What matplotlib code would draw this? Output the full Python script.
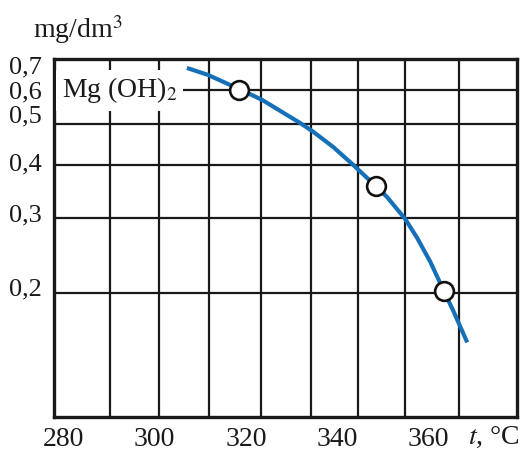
import matplotlib
matplotlib.use("Agg")
import matplotlib.pyplot as plt
import matplotlib.transforms as mtransforms

plt.rcParams['font.family'] = ['Liberation Serif', 'DejaVu Serif']
plt.rcParams['mathtext.fontset'] = 'stix'

# curve (t in degC, concentration in mg/dm3)
curve_t = [307.1, 311.7, 318.5, 323.6, 331.9, 334.5, 339.1, 343.5,
           348.5, 350.9, 354.9, 357.5, 360.4, 363.4, 365.4, 368.5]
curve_c = [0.678, 0.653, 0.605, 0.570, 0.503, 0.482, 0.442, 0.401,
           0.357, 0.337, 0.299, 0.270, 0.237, 0.202, 0.182, 0.153]

# measured points (circles)
pts_t = [318.5, 348.5, 363.4]
pts_c = [0.603, 0.357, 0.202]

x_ticks = [280, 300, 320, 340, 360]
y_ticks = [0.2, 0.3, 0.4, 0.5, 0.6, 0.7]
y_labels = ['0,2', '0,3', '0,4', '0,5', '0,6', '0,7']
x_grid = [290.3, 301.0, 311.9, 323.3, 334.2, 344.5, 354.9, 366.7]
y_grid = [0.2, 0.3, 0.4, 0.5, 0.6]

W, H = 529, 453
fig = plt.figure(figsize=(W / 100, H / 100), dpi=100)
ax = fig.add_axes([54.3 / W, (H - 417) / H, (517 - 54.3) / W, (417 - 59.3) / H])

ax.set_yscale('log')
ax.set_xlim(278.05, 379.4)
ax.set_ylim(0.1021, 0.7106)

# grid
for g in x_grid:
    ax.axvline(g, color='#1a1a1a', lw=1.6, zorder=1)
for g in y_grid:
    ax.axhline(g, color='#1a1a1a', lw=1.6, zorder=1)

for s in ax.spines.values():
    s.set_linewidth(2.4)
    s.set_color('#1a1a1a')

# curve + points
ax.plot(curve_t, curve_c, color='#1570b8', lw=3, solid_capstyle='butt',
        solid_joinstyle='round', zorder=3)
ax.plot(pts_t, pts_c, 'o', ms=13.5, mfc='white', mec='#111111', mew=1.9, zorder=4)

# ticks
ax.set_xticks(x_ticks)
ax.set_xticklabels([str(v) for v in x_ticks])
ax.set_yticks(y_ticks)
ax.set_yticklabels(y_labels)
ax.yaxis.set_minor_locator(matplotlib.ticker.NullLocator())
ax.tick_params(axis='x', length=0, labelsize=20, colors='#1a1a1a', pad=7)
ax.tick_params(axis='y', length=0, labelsize=19, colors='#1a1a1a', pad=9)

# the printed labels sit a little off their lines (pixels, up is +)
shift_px = [6, 5, 3, 10, 1, -3]
for lab, dy in zip(ax.get_yticklabels(), shift_px):
    off = mtransforms.ScaledTranslation(0, dy / 100, fig.dpi_scale_trans)
    lab.set_transform(lab.get_transform() + off)

# label box
ax.text(0.016, 0.6, 'Mg (OH)$_2$', transform=ax.get_yaxis_transform(),
        fontsize=20, va='center', ha='left', color='#1a1a1a', zorder=5,
        bbox=dict(facecolor='white', edgecolor='none', pad=4))

# axis titles
fig.text(33 / W, 1 - 30 / H, 'mg/dm$^3$', fontsize=20, va='center', ha='left', color='#1a1a1a')
fig.text(468 / W, 1 - 437 / H, '$t$, °C', fontsize=20, va='center', ha='left', color='#1a1a1a')

fig.savefig('out.png', dpi=100)
